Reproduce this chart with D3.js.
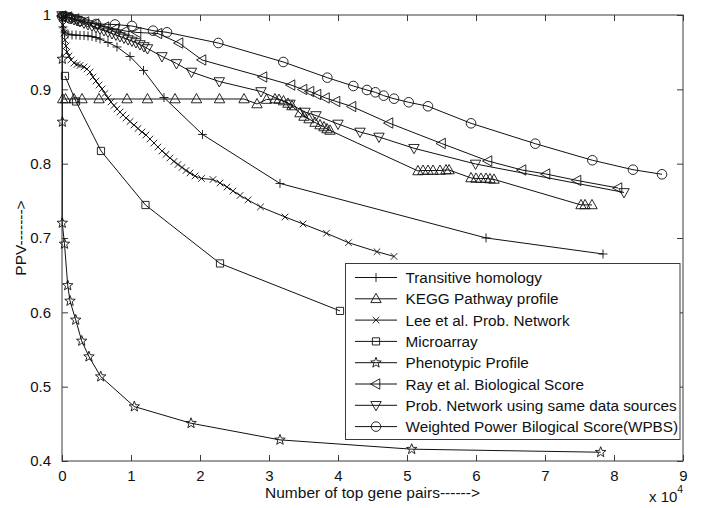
<!DOCTYPE html>
<html><head><meta charset="utf-8">
<script src="https://cdn.jsdelivr.net/npm/d3@7"></script>
<style>body{margin:0;background:#fff}svg{display:block}text{font-family:"Liberation Sans",Arial,Helvetica,sans-serif}</style>
</head><body><svg id="c" width="701" height="508"></svg>
<script>
const xTicks = [0,10000,20000,30000,40000,50000,60000,70000,80000,90000];
const yTicks = [0.4,0.5,0.6,0.7,0.8,0.9,1.0];

const transX = [0,140,430,870,1450,2030,2610,3190,3770,4350,4930,5510,6670,7970,9860,11810,14780,20360,31590,61450,78410];
const transY = [0.9973,0.9839,0.9771,0.9744,0.9731,0.9731,0.9724,0.9724,0.9718,0.9711,0.9697,0.9677,0.9630,0.9570,0.9442,0.9254,0.8890,0.8393,0.7734,0.7001,0.6785];

const keggX = [100,510,1740,2900,5360,9420,12390,16380,19490,22830,26380,28260,29640,30870,31450,32100,32750,33330,34490,35070,35800,36670,37390,37970,38410,38840,51590,52320,53040,53770,54780,55650,56090,59280,60000,60720,61450,62030,62610,75220,75800,76810];
const keggY = [0.887,0.887,0.887,0.887,0.887,0.887,0.887,0.887,0.887,0.887,0.887,0.8803,0.8863,0.887,0.8863,0.8843,0.8810,0.8776,0.8682,0.8635,0.8601,0.8554,0.8520,0.8494,0.8467,0.8447,0.7902,0.7908,0.7908,0.7908,0.7908,0.7915,0.7915,0.7808,0.7801,0.7801,0.7801,0.7794,0.7788,0.7445,0.7445,0.7445];

const leeX = [0,140,290,430,580,720,1010,1300,1740,2170,2610,3190,3620,4060,4490,4930,5360,5800,6230,6670,7100,7540,7970,8410,8840,9280,9860,10430,11010,11590,12170,12750,13330,13910,14490,15070,15650,16230,16810,17390,17970,18550,19280,20220,21880,22900,23910,24780,25800,26960,28770,32320,34930,38330,41520,45650,48120];
const leeY = [0.9987,0.9865,0.9758,0.9664,0.9583,0.9502,0.9449,0.9395,0.9354,0.9334,0.9321,0.9301,0.9274,0.9233,0.9166,0.9112,0.9058,0.9005,0.8944,0.8884,0.8830,0.8783,0.8736,0.8695,0.8655,0.8614,0.8567,0.8520,0.8473,0.8426,0.8386,0.8332,0.8278,0.8224,0.8171,0.8124,0.8077,0.8030,0.7989,0.7949,0.7908,0.7875,0.7834,0.7801,0.7787,0.7740,0.7686,0.7633,0.7572,0.7512,0.7418,0.7283,0.7189,0.7064,0.6937,0.6816,0.6752];

const microX = [430,2030,5650,12100,22900,40290];
const microY = [0.9180,0.8837,0.8171,0.7444,0.6658,0.6019];

const phenoX = [50,50,60,40,360,830,1160,1990,2860,3910,5610,10480,18700,31590,50680,78070];
const phenoY = [0.9973,0.9408,0.8561,0.7202,0.6920,0.6362,0.6153,0.5898,0.5615,0.5404,0.5135,0.4732,0.4508,0.4284,0.4159,0.4118];

const rayX = [0,870,1880,3330,4780,6230,7680,9130,10870,13910,16960,20290,29130,33190,34930,35940,36960,38190,39710,42030,47390,55000,61740,66670,70140,74640,80580];
const rayY = [0.9987,0.9973,0.9946,0.9906,0.9879,0.9839,0.9812,0.9785,0.9765,0.9751,0.9623,0.9395,0.9166,0.9058,0.8998,0.8971,0.8931,0.8884,0.8837,0.8769,0.8547,0.8272,0.8036,0.7915,0.7861,0.7774,0.7673];

const probX = [0,430,870,1300,1740,2170,2610,3190,3770,4350,4930,5510,6090,6670,7250,7830,8410,8990,9570,10140,10720,11300,11880,12390,14490,16590,18770,22800,28840,33040,35220,36810,40000,43190,45940,51010,59930,81450];
const probY = [0.9993,0.9980,0.9966,0.9953,0.9939,0.9926,0.9913,0.9892,0.9872,0.9852,0.9832,0.9812,0.9791,0.9771,0.9751,0.9731,0.9711,0.9691,0.9670,0.9650,0.9630,0.9603,0.9576,0.9549,0.9442,0.9348,0.9233,0.9105,0.8971,0.8803,0.8695,0.8648,0.8534,0.8426,0.8359,0.8207,0.7996,0.7613];

const wpbsX = [40,1160,2610,4930,7680,10140,13190,15220,22650,32070,38450,42220,44200,45410,46620,48120,50250,53040,59280,68590,76860,82750,86960];
const wpbsY = [0.998,0.9953,0.9919,0.9879,0.9872,0.9852,0.9789,0.9767,0.9623,0.9368,0.9157,0.9045,0.8991,0.8960,0.8915,0.8874,0.8826,0.8772,0.8543,0.8269,0.8046,0.7919,0.7857];

const seriesNames = ["Transitive homology","KEGG Pathway profile","Lee et al. Prob. Network","Microarray","Phenotypic Profile","Ray et al. Biological Score","Prob. Network using same data sources","Weighted Power Bilogical Score(WPBS)"];

function starPath(R, r){
  let p = [];
  for (let i=0;i<10;i++){
    const a = -Math.PI/2 + i*Math.PI/5;
    const rr = i%2===0 ? R : r;
    p.push([rr*Math.cos(a), rr*Math.sin(a)]);
  }
  return "M" + p.map(d=>d[0].toFixed(2)+","+d[1].toFixed(2)).join("L") + "Z";
}
const markers = {
  plus: "M-4.5,0H4.5M0,-4.5V4.5",
  cross: "M-3.3,-3.3L3.3,3.3M-3.3,3.3L3.3,-3.3",
  triUp: "M0,-5.5L5.2,3.8L-5.2,3.8Z",
  square: "M-3.6,-3.6H3.6V3.6H-3.6Z",
  star: starPath(5.5, 2.3),
  triLeft: "M-5.5,0L3.8,-5.2L3.8,5.2Z",
  triDown: "M0,5.5L5.2,-3.8L-5.2,-3.8Z",
  circle: "M4.8,0A4.8,4.8 0 1,1 -4.8,0A4.8,4.8 0 1,1 4.8,0Z"
};

const series = [
  {name: seriesNames[0], x: transX, y: transY, m: "plus"},
  {name: seriesNames[1], x: keggX, y: keggY, m: "triUp"},
  {name: seriesNames[2], x: leeX, y: leeY, m: "cross"},
  {name: seriesNames[3], x: microX, y: microY, m: "square"},
  {name: seriesNames[4], x: phenoX, y: phenoY, m: "star"},
  {name: seriesNames[5], x: rayX, y: rayY, m: "triLeft"},
  {name: seriesNames[6], x: probX, y: probY, m: "triDown"},
  {name: seriesNames[7], x: wpbsX, y: wpbsY, m: "circle"}
];

const svg = d3.select("#c");
const L = 62, R = 683, T = 15, B = 461;
const x = d3.scaleLinear().domain([0, 90000]).range([L, R]);
const y = d3.scaleLinear().domain([0.4, 1.0]).range([B, T]);
const axisCol = "#3a3a3a";

const gx = svg.append("g").attr("transform", `translate(0,${B})`)
  .call(d3.axisBottom(x).tickValues(xTicks).tickSizeInner(-6).tickSizeOuter(0).tickPadding(9).tickFormat(d => d/10000));
const gxt = svg.append("g").attr("transform", `translate(0,${T})`)
  .call(d3.axisTop(x).tickValues(xTicks).tickSizeInner(-6).tickSizeOuter(0).tickFormat(""));
const gy = svg.append("g").attr("transform", `translate(${L},0)`)
  .call(d3.axisLeft(y).tickValues(yTicks).tickSizeInner(-6).tickSizeOuter(0).tickPadding(11).tickFormat(d => d===1 ? "1" : d3.format(".1f")(d)));
const gyr = svg.append("g").attr("transform", `translate(${R},0)`)
  .call(d3.axisRight(y).tickValues(yTicks).tickSizeInner(-6).tickSizeOuter(0).tickFormat(""));
[gx,gxt,gy,gyr].forEach(g => {
  g.select(".domain").remove();
  g.selectAll("line").attr("stroke", axisCol).attr("stroke-width", 1);
  g.selectAll("text").attr("font-size", 15).attr("fill", "#111");
});
svg.append("rect").attr("x", L).attr("y", T).attr("width", R-L).attr("height", B-T)
  .attr("fill", "none").attr("stroke", axisCol).attr("stroke-width", 1);

const line = d3.line().x(d => x(d[0])).y(d => y(d[1]));
series.forEach(s => {
  const pts = s.x.map((v,i) => [v, s.y[i]]);
  const g = svg.append("g");
  g.append("path").attr("d", line(pts)).attr("fill", "none").attr("stroke", "#111").attr("stroke-width", 1);
  g.selectAll("path.mk").data(pts).join("path").attr("class","mk")
    .attr("d", markers[s.m])
    .attr("transform", d => `translate(${x(d[0])},${y(d[1])})`)
    .attr("fill", "none").attr("stroke", "#111").attr("stroke-width", 0.9);
});

const lg = svg.append("g");
lg.append("rect").attr("x", 345.5).attr("y", 263.5).attr("width", 334.5).attr("height", 176)
  .attr("fill", "#fff").attr("stroke", axisCol).attr("stroke-width", 1);
series.forEach((s,i) => {
  const cy = 277.5 + i*21.3;
  lg.append("line").attr("x1", 355).attr("x2", 397).attr("y1", cy).attr("y2", cy).attr("stroke", "#111");
  lg.append("path").attr("d", markers[s.m]).attr("transform", `translate(376,${cy})`)
    .attr("fill","none").attr("stroke","#111").attr("stroke-width",0.9);
  lg.append("text").attr("x", 405.5).attr("y", cy + 5.5).attr("font-size", 15.3).attr("fill","#111").text(s.name);
});

svg.append("text").attr("x", (L+R)/2).attr("y", 498).attr("text-anchor","middle").attr("font-size",15.5).attr("fill","#111")
  .text("Number of top gene pairs------>");
svg.append("text").attr("transform", `translate(26,${(T+B)/2}) rotate(-90)`).attr("text-anchor","middle").attr("font-size",15.5).attr("fill","#111")
  .text("PPV------->");
const ex = svg.append("text").attr("x", 649).attr("y", 502).attr("font-size",15).attr("fill","#111");
ex.append("tspan").text("x 10");
ex.append("tspan").attr("dy", -9).attr("font-size", 10.5).text("4");
</script></body></html>
